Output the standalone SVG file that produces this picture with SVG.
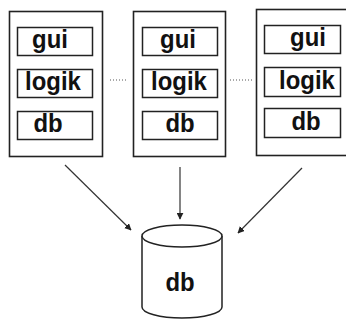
<svg xmlns="http://www.w3.org/2000/svg" width="346" height="320" viewBox="0 0 346 320">
  <defs>
    <style>
      .tier { fill: #ffffff; stroke: #222222; stroke-width: 1.6; }
      .layer { fill: #ffffff; stroke: #222222; stroke-width: 1.5; }
      .lbl { font-family: "Liberation Sans", Arial, sans-serif; font-weight: bold; font-size: 26px; fill: #111111; text-anchor: middle; }
      .edge { stroke: #333333; stroke-width: 1.2; fill: none; }
      .dots { stroke: #555555; stroke-width: 1; stroke-dasharray: 1 2; fill: none; }
      .drum { fill: #ffffff; stroke: #222222; stroke-width: 1.5; }
    </style>
    <marker id="arrow" viewBox="0 0 10 10" refX="9" refY="5" markerWidth="7" markerHeight="7" markerUnits="userSpaceOnUse" orient="auto">
      <path d="M0,0 L10,5 L0,10 z" fill="#222222"/>
    </marker>
  </defs>
  <rect width="346" height="320" fill="#ffffff"/>

  <!-- client 1 -->
  <g id="client1">
    <rect class="tier" x="9.5" y="11.5" width="93" height="145"/>
    <rect class="layer" x="17.5" y="27.5" width="75" height="28"/>
    <text class="lbl" transform="translate(50,48) scale(0.92,1)">gui</text>
    <rect class="layer" x="17.5" y="69.5" width="75" height="28"/>
    <text class="lbl" transform="translate(53,90) scale(0.92,1)">logik</text>
    <rect class="layer" x="17.5" y="111.5" width="75" height="28"/>
    <text class="lbl" transform="translate(48,132) scale(0.92,1)">db</text>
  </g>

  <!-- client 2 -->
  <g id="client2">
    <rect class="tier" x="133.5" y="11.5" width="92" height="145"/>
    <rect class="layer" x="142.5" y="27.5" width="75" height="28"/>
    <text class="lbl" transform="translate(178,48) scale(0.92,1)">gui</text>
    <rect class="layer" x="142.5" y="69.5" width="75" height="28"/>
    <text class="lbl" transform="translate(179,90) scale(0.92,1)">logik</text>
    <rect class="layer" x="142.5" y="111.5" width="75" height="28"/>
    <text class="lbl" transform="translate(180,132) scale(0.92,1)">db</text>
  </g>

  <!-- client 3 -->
  <g id="client3">
    <rect class="tier" x="256.5" y="9.5" width="100" height="146"/>
    <rect class="layer" x="264.5" y="25.5" width="76" height="28"/>
    <text class="lbl" transform="translate(308,46) scale(0.92,1)">gui</text>
    <rect class="layer" x="264.5" y="67.5" width="76" height="29"/>
    <text class="lbl" transform="translate(307,89) scale(0.92,1)">logik</text>
    <rect class="layer" x="264.5" y="108.5" width="76" height="29"/>
    <text class="lbl" transform="translate(306,130) scale(0.92,1)">db</text>
  </g>

  <!-- shared database -->
  <g id="database">
    <path class="drum" d="M142,236 L142,307 A40,11 0 0 0 222,307 L222,236"/>
    <ellipse class="drum" cx="182" cy="236" rx="40" ry="11"/>
    <text class="lbl" transform="translate(180,291) scale(0.92,1)">db</text>
  </g>

  <!-- connectors -->
  <g id="connectors">
    <line class="dots" x1="110" y1="80" x2="128" y2="80"/>
    <line class="dots" x1="230" y1="80" x2="252" y2="80"/>
    <line class="edge" x1="65" y1="165" x2="131" y2="230" marker-end="url(#arrow)"/>
    <line class="edge" x1="180" y1="167" x2="180" y2="219" marker-end="url(#arrow)"/>
    <line class="edge" x1="302" y1="168" x2="238" y2="233" marker-end="url(#arrow)"/>
  </g>
</svg>
